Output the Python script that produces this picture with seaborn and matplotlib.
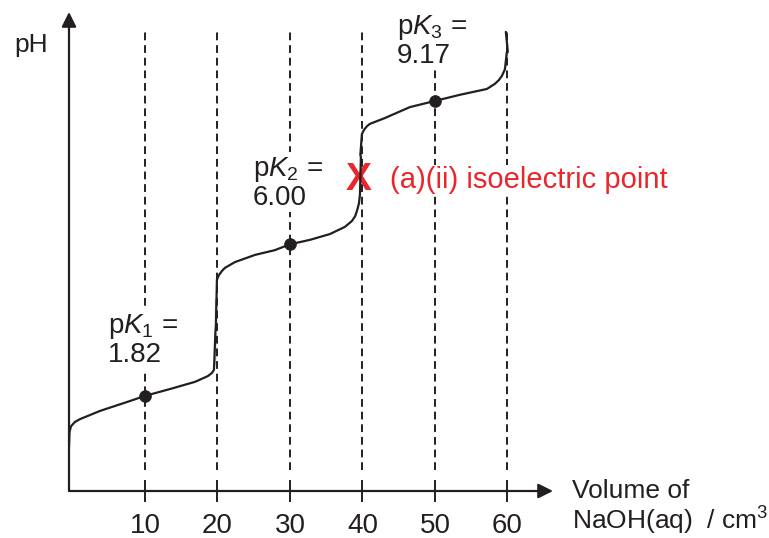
import seaborn as sns
import matplotlib.pyplot as plt
import pandas as pd
import numpy as np

# --- titration curve (sketch); y in arbitrary pH-like units ---
vol = [-0.48, -0.41, -0.21, 0.34, 1.03, 1.72, 3.79, 7.93, 10.0, 13.45, 16.9, 18.69,
       19.24, 19.52, 19.72, 19.79, 19.79, 19.79, 19.72, 19.79, 19.93, 20.21, 20.62,
       21.03, 22.41, 25.17, 27.93, 30.0, 32.76, 35.52, 37.59, 38.55, 39.0, 39.24,
       39.52, 39.66, 39.79, 39.72, 39.79, 39.93, 40.21, 40.62, 41.03, 43.1,
       46.55, 50.0, 53.45, 57.17, 58.28, 58.83, 59.24, 59.66, 59.93, 60.07, 59.93, 59.79]
ph = [1.29, 1.72, 1.89, 2.02, 2.10, 2.16, 2.34, 2.63, 2.78, 2.98, 3.19, 3.36,
      3.45, 3.54, 3.70, 3.89, 4.41, 5.00, 5.58, 6.02, 6.18, 6.31, 6.43,
      6.52, 6.69, 6.90, 7.04, 7.21, 7.34, 7.51, 7.72, 7.89, 8.03, 8.18,
      8.40, 8.65, 9.24, 9.82, 10.26, 10.43, 10.55, 10.66, 10.73, 10.90,
      11.22, 11.40, 11.58, 11.75, 11.90, 12.01, 12.13, 12.32, 12.54, 12.83, 13.12, 13.42]

pk_vol = [10, 30, 50]
pk_ph = [2.78, 7.21, 11.40]
pk_labels = ["p$K_1$ =\n1.82", "p$K_2$ =\n6.00", "p$K_3$ =\n9.17"]
pk_label_pos = [(4.9, 4.41), (24.9, 9.0), (44.76, 13.15)]

tick_vols = [10, 20, 30, 40, 50, 60]
iso_vol, iso_ph = 39.5, 9.09

df = pd.DataFrame({"vol": vol, "ph": ph})
pk = pd.DataFrame({"vol": pk_vol, "ph": pk_ph})

sns.set_style("white")
plt.rcParams["font.family"] = ["Liberation Sans", "DejaVu Sans"]
plt.rcParams["mathtext.fontset"] = "custom"
plt.rcParams["mathtext.rm"] = "Liberation Sans"
plt.rcParams["mathtext.it"] = "Liberation Sans:italic"

ink = "#231f20"
red = "#e8262b"

fig = plt.figure(figsize=(7.69, 5.38), dpi=100)
ax = fig.add_axes([69 / 769, 47 / 538, 484 / 769, 479 / 538])
ax.set_xlim(-0.48, 66.3)
ax.set_ylim(0, 14)

# dashed guides
for v in tick_vols:
    ax.plot([v, v], [0.6, 13.45], color=ink, lw=1.4, dashes=(4, 2.5), zorder=1)

sns.lineplot(data=df, x="vol", y="ph", sort=False, color=ink, lw=1.6, ax=ax, zorder=3)
sns.scatterplot(data=pk, x="vol", y="ph", color=ink, s=70, edgecolor=ink, ax=ax, zorder=4)

for lab, (x, y) in zip(pk_labels, pk_label_pos):
    ax.text(x, y, lab, fontsize=20, color=ink, ha="left", va="center", linespacing=1.05,
            bbox=dict(facecolor="white", edgecolor="none", pad=1), zorder=5)

ax.text(iso_vol, iso_ph, "X", color=red, fontsize=28, fontweight="bold",
        ha="center", va="center", zorder=2)
ax.text(43.8, iso_ph, "(a)(ii) isoelectric point", color=red, fontsize=21,
        ha="left", va="center", zorder=6,
        bbox=dict(facecolor="white", edgecolor="none", pad=1))

# axes with arrows
for s in ax.spines.values():
    s.set_visible(False)
ax.annotate("", xy=(1, 0), xycoords="axes fraction", xytext=(0, 0),
            arrowprops=dict(arrowstyle="-|>", lw=1.6, color=ink, mutation_scale=22,
                            shrinkA=0, shrinkB=0))
ax.annotate("", xy=(0, 1), xycoords="axes fraction", xytext=(0, 0),
            arrowprops=dict(arrowstyle="-|>", lw=1.6, color=ink, mutation_scale=22,
                            shrinkA=0, shrinkB=0))

ax.set_xticks(tick_vols)
ax.set_xticklabels([str(v) for v in tick_vols])
ax.set_yticks([])
ax.tick_params(axis="x", direction="inout", length=16, width=1.4, color=ink,
               labelsize=20, labelcolor=ink, pad=8, bottom=True)
ax.set_xlabel("")
ax.set_ylabel("")

fig.text(14 / 769, 1 - 45 / 538, "pH", fontsize=19, color=ink, ha="left", va="center")
fig.text(572 / 769, 1 - 508 / 538, "Volume of\nNaOH(aq)  / cm$^3$", fontsize=19,
         color=ink, ha="left", va="center", linespacing=1.1)

fig.savefig("out.png", dpi=100)
